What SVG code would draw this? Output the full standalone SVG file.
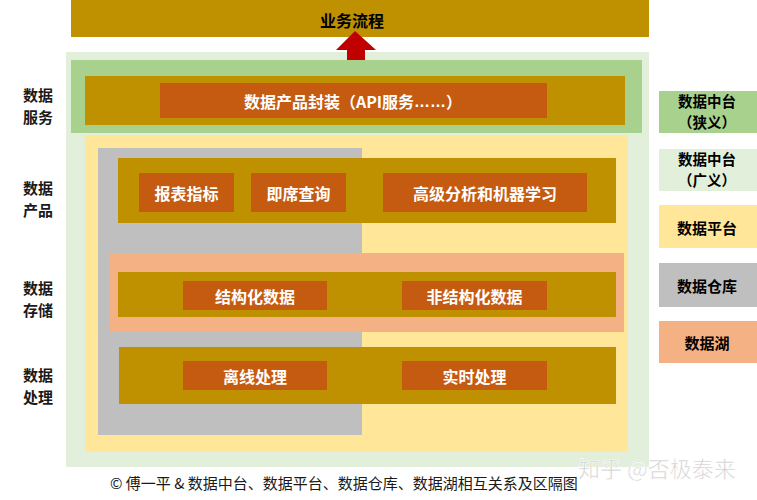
<svg xmlns="http://www.w3.org/2000/svg" width="757" height="500" viewBox="0 0 757 500">
<style>
.gold{fill:#BF9000}
.org{fill:#C55A11}
.wt{font-family:"Noto Sans CJK SC","Liberation Sans",sans-serif;font-weight:bold;fill:#FFFFFF;font-size:16px;text-anchor:middle;dominant-baseline:central}
.bt{font-family:"Noto Sans CJK SC","Liberation Sans",sans-serif;font-weight:bold;fill:#000000;font-size:15px;text-anchor:middle;dominant-baseline:central}
.lbl{font-family:"Noto Sans CJK SC","Liberation Sans",sans-serif;font-weight:bold;fill:#1a1a1a;font-size:15px;text-anchor:middle}
.bt2{font-family:"Noto Sans CJK SC","Liberation Sans",sans-serif;font-weight:bold;fill:#000000;font-size:14.5px;text-anchor:middle}
.lat{font-family:"Liberation Sans",sans-serif}
</style>
<rect width="757" height="500" fill="#FFFFFF"/>
<g id="business">
<rect x="71" y="0" width="578" height="37" class="gold"/>
<text x="352" y="20" class="bt" style="font-size:16px">业务流程</text>
</g>
<g id="middle-broad">
<rect x="66" y="52" width="583" height="415" fill="#E2EFDA"/>
</g>
<g id="middle-narrow">
<rect x="71" y="60" width="571" height="73" fill="#A9D18E"/>
<rect x="85" y="76" width="540" height="49" class="gold"/>
<rect x="160" y="83" width="387" height="35" class="org"/>
<text x="353" y="101" class="wt">数据产品封装（API服务<tspan class="lat">……</tspan>）</text>
</g>
<g id="platform">
<rect x="85" y="135" width="543" height="317" fill="#FFE699"/>
</g>
<g id="warehouse">
<rect x="98" y="148" width="264" height="287" fill="#BFBFBF"/>
</g>
<g id="products">
<rect x="118" y="158" width="498" height="65" class="gold"/>
<rect x="139" y="173" width="95" height="39" class="org"/>
<text x="186.5" y="192.5" class="wt">报表指标</text>
<rect x="251" y="173" width="95" height="39" class="org"/>
<text x="298.5" y="192.5" class="wt">即席查询</text>
<rect x="383" y="173" width="204" height="39" class="org"/>
<text x="485" y="192.5" class="wt">高级分析和机器学习</text>
</g>
<g id="lake">
<rect x="110" y="253" width="514" height="79" fill="#F4B183"/>
</g>
<g id="storage">
<rect x="118" y="272" width="498" height="45" class="gold"/>
<rect x="183" y="281" width="144" height="29" class="org"/>
<text x="255" y="295.5" class="wt">结构化数据</text>
<rect x="402" y="281" width="145" height="29" class="org"/>
<text x="474.5" y="295.5" class="wt">非结构化数据</text>
</g>
<g id="processing">
<rect x="119" y="347" width="497" height="57" class="gold"/>
<rect x="183" y="361" width="144" height="29" class="org"/>
<text x="255" y="375.5" class="wt">离线处理</text>
<rect x="402" y="361" width="145" height="29" class="org"/>
<text x="474.5" y="375.5" class="wt">实时处理</text>
</g>
<g id="layer-labels">
<text x="38" y="101" class="lbl"><tspan x="38">数据</tspan><tspan x="38" dy="21.5">服务</tspan></text>
<text x="38" y="194" class="lbl"><tspan x="38">数据</tspan><tspan x="38" dy="21.5">产品</tspan></text>
<text x="38" y="294" class="lbl"><tspan x="38">数据</tspan><tspan x="38" dy="21.5">存储</tspan></text>
<text x="38" y="381" class="lbl"><tspan x="38">数据</tspan><tspan x="38" dy="21.5">处理</tspan></text>
</g>
<g id="legend">
<rect x="659" y="91" width="98" height="42" fill="#A9D18E"/>
<text x="707" y="107" class="bt2"><tspan x="707">数据中台</tspan><tspan x="707" dy="20.5">（狭义）</tspan></text>
<rect x="659" y="149" width="98" height="42" fill="#E2EFDA"/>
<text x="707" y="165" class="bt2"><tspan x="707">数据中台</tspan><tspan x="707" dy="20.5">（广义）</tspan></text>
<rect x="659" y="205" width="98" height="43" fill="#FFE699"/>
<text x="707" y="227" class="bt">数据平台</text>
<rect x="659" y="263" width="98" height="44" fill="#BFBFBF"/>
<text x="707" y="285" class="bt">数据仓库</text>
<rect x="659" y="321" width="98" height="42" fill="#F4B183"/>
<text x="707" y="342" class="bt">数据湖</text>
</g>
<g id="connectors">
<polygon points="355,31 376,50 365,50 365,60 347,60 347,50 336,50" fill="#C00000"/>
</g>
<text x="110" y="482" font-family="Noto Sans CJK SC,Liberation Sans,sans-serif" font-size="15" fill="#1a1a1a" dominant-baseline="central">© 傅一平 &amp; 数据中台、数据平台、数据仓库、数据湖相互关系及区隔图</text>
<text x="578" y="467" font-family="Noto Sans CJK SC,Liberation Sans,sans-serif" font-size="22" fill="#CFCFCF" stroke="#FFFFFF" stroke-width="0.6" dominant-baseline="central">知乎 @否极泰来</text>
</svg>
